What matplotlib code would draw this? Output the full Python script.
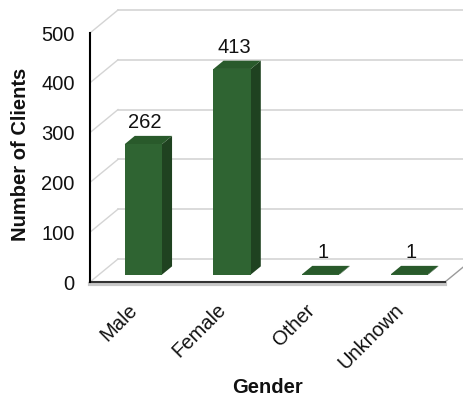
import matplotlib.pyplot as plt
from matplotlib.transforms import ScaledTranslation
import numpy as np

plt.rcParams['font.family'] = ['Liberation Sans', 'DejaVu Sans']

# Data
categories = ['Male', 'Female', 'Other', 'Unknown']
clients = [262, 413, 1, 1]
y_ticks = [0, 100, 200, 300, 400, 500]

# Colours
front_col = '#2f6432'
side_col = '#1f4220'
top_col = '#295a2b'
grid_col = '#d4d4d4'
text_col = '#111111'
fs = 14.5

# Pseudo-3D geometry (pixels at dpi=100)
depth_px = (28, 23)          # wall depth offset
bar_start, bar_end = 0.32, 0.68   # fraction of depth occupied by bars
bar_width = 0.42

fig = plt.figure(figsize=(4.64, 3.98), dpi=100)
ax = fig.add_axes([90 / 464, 116 / 398, 355 / 464, 249 / 398])
ax.set_xlim(-0.5, len(categories) - 0.5)
ax.set_ylim(0, 500)

# depth offset expressed in data units
x0, x1 = ax.get_xlim()
ddx = depth_px[0] * (x1 - x0) / 355
ddy = depth_px[1] * 500 / 249

# walls / gridlines
for v in y_ticks:
    ax.plot([x0, x0 + ddx], [v, v + ddy], color=grid_col, lw=1, clip_on=False, zorder=1)
    ax.plot([x0 + ddx, x1 + ddx], [v + ddy, v + ddy], color=grid_col, lw=1.2,
            clip_on=False, zorder=1)
# floor right edge
ax.plot([x1, x1 + ddx], [0, ddy], color='#9a9a9a', lw=1, clip_on=False, zorder=1)
# floor front edge shadow
ax.plot([x0, x1], [0, 0], color='#c8c8c8', lw=3, clip_on=False, zorder=2,
        transform=ax.transData + ScaledTranslation(0, -0.015, fig.dpi_scale_trans))

# bars
xs = np.arange(len(categories))
for x, v in zip(xs, clients):
    sx, sy = bar_start * ddx, bar_start * ddy
    ex, ey = bar_end * ddx, bar_end * ddy
    l, r = x - bar_width / 2, x + bar_width / 2
    # side face
    ax.fill([r + sx, r + ex, r + ex, r + sx], [sy, ey, v + ey, v + sy],
            color=side_col, lw=0, clip_on=False, zorder=3)
    # top face
    ax.fill([l + sx, r + sx, r + ex, l + ex], [v + sy, v + sy, v + ey, v + ey],
            color=top_col, lw=0, clip_on=False, zorder=3)
    # front face
    ax.fill([l + sx, r + sx, r + sx, l + sx], [sy, sy, v + sy, v + sy],
            color=front_col, lw=0, clip_on=False, zorder=4)
    ax.annotate(str(v), (x + sx + 0.02, v + ey), xytext=(0, 3), textcoords='offset points',
                ha='center', va='bottom', fontsize=fs, color=text_col, zorder=5)

# axes lines
for s in ['top', 'right']:
    ax.spines[s].set_visible(False)
ax.spines['left'].set_color('black')
ax.spines['left'].set_linewidth(1.5)
ax.spines['bottom'].set_color('#333333')
ax.spines['bottom'].set_linewidth(1.5)
ax.spines['left'].set_zorder(6)

ax.set_yticks(y_ticks)
ax.set_xticks(xs)
ax.set_xticklabels(categories, rotation=45, ha='right', va='center', rotation_mode='anchor')
ax.tick_params(axis='y', length=0, pad=11, labelsize=fs, labelcolor=text_col)
ax.tick_params(axis='x', length=0, pad=18, labelsize=fs, labelcolor=text_col)

ax.set_xlabel('Gender', fontsize=fs, fontweight='bold', color=text_col)
ax.xaxis.label.set_va('center')
ax.xaxis.set_label_coords(0.5, -0.425)
ax.set_ylabel('Number of Clients', fontsize=fs, fontweight='bold', color=text_col)
ax.yaxis.label.set_va('center')
ax.yaxis.set_label_coords(-0.197, 0.514)

ax.patch.set_alpha(0)
fig.savefig('out.png', dpi=100)
